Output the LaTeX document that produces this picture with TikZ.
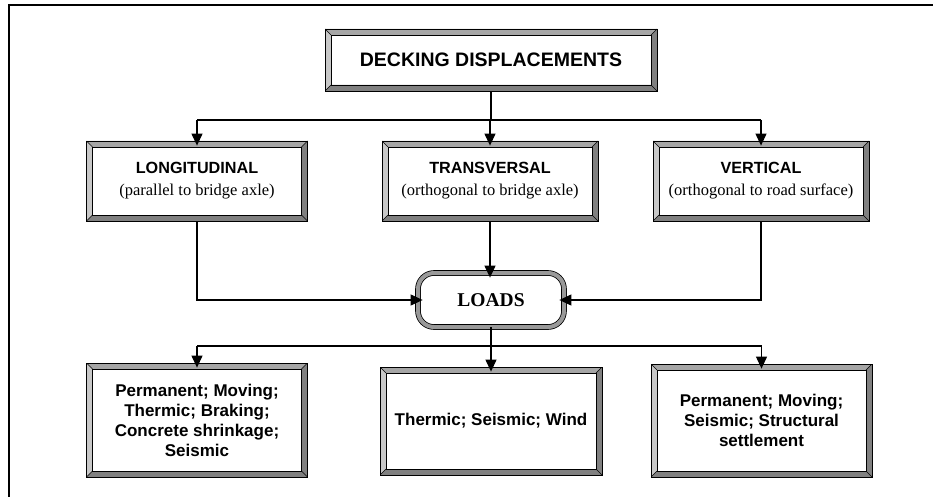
\documentclass[tikz,border=0pt]{standalone}
\usepackage{fontspec}
\setmainfont{Liberation Serif}
\newfontfamily\arialf{Liberation Sans}
\usetikzlibrary{arrows.meta,calc}
\definecolor{bvtop}{HTML}{A6A6A6}
\definecolor{bvleft}{HTML}{C8C8C8}
\definecolor{bvright}{HTML}{808080}
\definecolor{bvbot}{HTML}{808080}
\definecolor{band}{HTML}{999999}
\tikzset{
  bevelbox/.style={draw=black, line width=0.8pt, fill=white, rectangle, inner sep=0pt, align=center,
    path picture={
      \coordinate (NW) at (path picture bounding box.north west);
      \coordinate (NE) at (path picture bounding box.north east);
      \coordinate (SW) at (path picture bounding box.south west);
      \coordinate (SE) at (path picture bounding box.south east);
      \coordinate (nw) at ([shift={(6pt,-6pt)}]NW);
      \coordinate (ne) at ([shift={(-6pt,-6pt)}]NE);
      \coordinate (sw) at ([shift={(6pt,6pt)}]SW);
      \coordinate (se) at ([shift={(-6pt,6pt)}]SE);
      \fill[bvtop] (NW) -- (NE) -- (ne) -- (nw) -- cycle;
      \fill[bvleft] (NW) -- (nw) -- (sw) -- (SW) -- cycle;
      \fill[bvright] (NE) -- (SE) -- (se) -- (ne) -- cycle;
      \fill[bvbot] (SW) -- (sw) -- (se) -- (SE) -- cycle;
      \draw[line width=0.8pt] (nw) rectangle (se);
      \draw[line width=0.6pt] (NW) -- (nw) (NE) -- (ne) (SW) -- (sw) (SE) -- (se);
    }},
  headfont/.style={font=\fontsize{16.5}{22}\selectfont},
  botfont/.style={font=\arialf\bfseries\fontsize{17}{20}\selectfont},
  loadsbox/.style={draw=black, line width=0.8pt, double=band, double distance=4pt, rounded corners=16pt,
    fill=white, minimum width=146pt, minimum height=54pt, inner sep=0pt,
    font=\bfseries\fontsize{19.5}{22}\selectfont},
  conn/.style={line width=1.2pt},
  arr/.style={conn, -{Triangle[length=12pt,width=11pt]}, shorten >=-5pt},
}
\newcommand{\hd}[1]{{\arialf\bfseries\fontsize{16.2}{22}\selectfont #1}}
\begin{document}
\begin{tikzpicture}[x=1pt,y=-1pt]
\useasboundingbox (0,0) rectangle (933,497);
\draw[line width=1.7pt] (8.7,497) -- (8.7,5) -- (933,5);

\node[bevelbox, minimum width=332pt, minimum height=62pt, font=\arialf\bfseries\fontsize{19.5}{22}\selectfont] (dd) at (491,60) {DECKING DISPLACEMENTS};

\node[bevelbox, headfont, minimum width=221pt, minimum height=80pt] (lon) at (197,181) {\hd{LONGITUDINAL}\\(parallel to bridge axle)};
\node[bevelbox, headfont, minimum width=216pt, minimum height=80pt] (tra) at (490,181) {\hd{TRANSVERSAL}\\(orthogonal to bridge axle)};
\node[bevelbox, headfont, minimum width=216pt, minimum height=80pt] (ver) at (761,181) {\hd{VERTICAL}\\(orthogonal to road surface)};

\node[loadsbox] (loads) at (491,300) {LOADS};

\node[bevelbox, botfont, minimum width=221pt, minimum height=114pt] (b1) at (197,420) {Permanent; Moving;\\Thermic; Braking;\\Concrete shrinkage;\\Seismic};
\node[bevelbox, botfont, minimum width=222pt, minimum height=108pt] (b2) at (491,421) {Thermic; Seismic; Wind};
\node[bevelbox, botfont, minimum width=221pt, minimum height=113pt] (b3) at (761.5,420.5) {Permanent; Moving;\\Seismic; Structural\\settlement};

\coordinate (bar1) at (491,120);
\coordinate (bar2) at (491,346);

\draw[conn] (dd.south) -- (dd.south |- bar1);
\draw[conn] (lon.north |- bar1) -- (ver.north |- bar1);
\draw[arr] (lon.north |- bar1) -- (lon.north);
\draw[arr] (tra.north |- bar1) -- (tra.north);
\draw[arr] (ver.north |- bar1) -- (ver.north);

\draw[arr] (lon.south) |- (loads.west);
\draw[arr] (ver.south) |- (loads.east);
\draw[arr] (tra.south) -- (tra.south |- loads.north);

\draw[conn] (loads.south) -- (loads.south |- bar2);
\draw[conn] (b1.north |- bar2) -- (b3.north |- bar2);
\draw[arr] (b1.north |- bar2) -- (b1.north);
\draw[arr] (b2.north |- bar2) -- (b2.north);
\draw[arr] (b3.north |- bar2) -- (b3.north);
\end{tikzpicture}
\end{document}
